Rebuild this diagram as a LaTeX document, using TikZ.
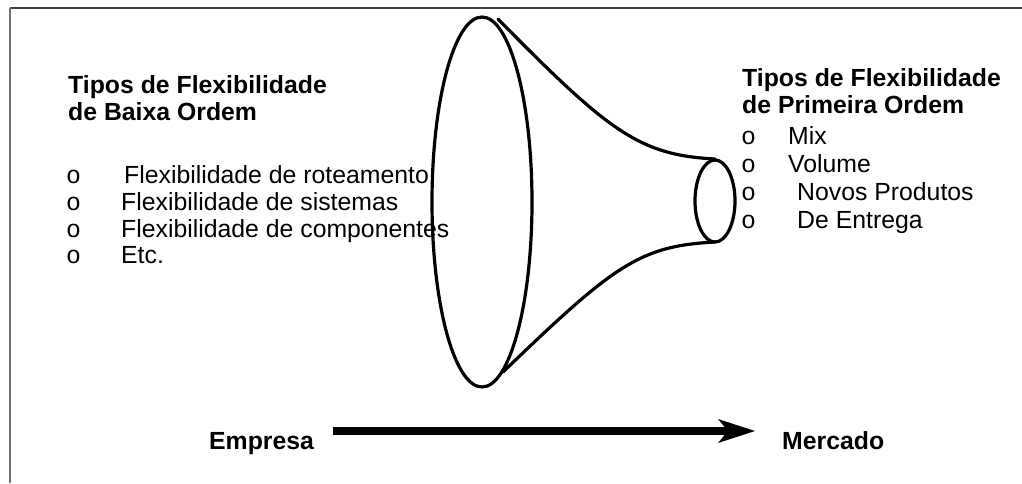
\documentclass[tikz,border=0pt]{standalone}
\usepackage{fontspec}
\setmainfont{Liberation Sans}
\newfontfamily\bulletfont{Liberation Mono}
\usetikzlibrary{arrows.meta}
\begin{document}
\begin{tikzpicture}[x=1pt,y=-1pt,
  txt/.style={anchor=base west, inner sep=0pt, font=\fontsize{24.8}{28}\selectfont},
  btxt/.style={anchor=base west, inner sep=0pt, font=\fontsize{24.8}{28}\selectfont\bfseries},
  bul/.style={anchor=base west, inner sep=0pt, font=\fontsize{24.8}{28}\selectfont\bulletfont},
  horn/.style={line width=3.2pt, line cap=round, line join=round}]
\fill[white] (0,0) rectangle (1022,483);
\useasboundingbox (0,0) rectangle (1022,483);
% frame
\draw[line width=1.6pt, draw=black!75] (10,8) -- (1022,8);
\draw[line width=1.8pt, draw=black!55] (10,8) -- (10,483);
% big mouth ellipse
\draw[horn] (482,202) ellipse [x radius=50pt, y radius=185pt];
% small end ellipse
\draw[horn] (715,201) ellipse [x radius=20pt, y radius=41pt];
% horn sides
\coordinate (ht0) at (498,19);
\coordinate (ht1) at (715,159);
\coordinate (hb0) at (503,372);
\coordinate (hb1) at (715,242);
\draw[horn] (ht0) .. controls (610,133) and (640,155) .. (ht1);
\draw[horn] (hb0) .. controls (615,264) and (640,246) .. (hb1);
% left texts
\node[btxt] (lt1) at (68,93) {Tipos de Flexibilidade};
\node[btxt] (lt2) at (68,120) {de Baixa Ordem};
\node[bul] (lb1) at (66,183) {o};
\node[bul] (lb2) at (66,210) {o};
\node[bul] (lb3) at (66,237) {o};
\node[bul] (lb4) at (66,263) {o};
\node[txt] (li1) at (124,183) {Flexibilidade de roteamento};
\node[txt] (li2) at (121,210) {Flexibilidade de sistemas};
\node[txt] (li3) at (121,237) {Flexibilidade de componentes};
\node[txt] (li4) at (121,263) {Etc.};
% right texts
\node[btxt] (rt1) at (742,86) {Tipos de Flexibilidade};
\node[btxt] (rt2) at (742,113) {de Primeira Ordem};
\node[bul] (rb1) at (741,144) {o};
\node[bul] (rb2) at (741,172) {o};
\node[bul] (rb3) at (741,200) {o};
\node[bul] (rb4) at (741,228) {o};
\node[txt] (ri1) at (788,144) {Mix};
\node[txt] (ri2) at (788,172) {Volume};
\node[txt] (ri3) at (797,200) {Novos Produtos};
\node[txt] (ri4) at (797,228) {De Entrega};
% bottom
\node[btxt] (emp) at (209,449) {Empresa};
\node[btxt] (mer) at (782,449) {Mercado};
\coordinate (as) at (333,431);
\coordinate (ae) at (755,431);
\draw[line width=8pt, -{Stealth[length=37pt, width=24pt, inset=10pt, line width=0pt]}] (as) -- (ae);
\end{tikzpicture}
\end{document}
